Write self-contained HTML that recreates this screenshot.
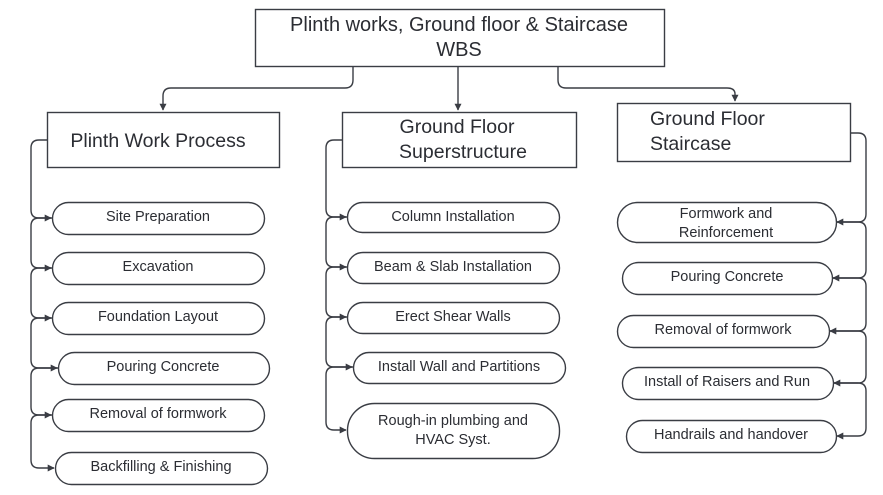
<!DOCTYPE html>
<html><head><meta charset="utf-8"><style>
html,body{margin:0;padding:0;background:#fff;}
svg{display:block;font-family:"Liberation Sans",sans-serif;}
</style></head><body>
<svg width="883" height="495" viewBox="0 0 883 495" xmlns="http://www.w3.org/2000/svg">
<defs><marker id="a" viewBox="0 0 10 10" refX="9" refY="5" markerWidth="7" markerHeight="7" orient="auto-start-reverse" markerUnits="userSpaceOnUse"><path d="M0,0 L10,5 L0,10 z" fill="#3a3d44"/></marker></defs>
<g fill="none" stroke="#3a3d44" stroke-width="1.4">
<!-- top connectors -->
<path d="M353,66 V80 Q353,88 345,88 H171 Q163,88 163,96 V110" marker-end="url(#a)"/>
<path d="M458,66 V110" marker-end="url(#a)"/>
<path d="M558,66 V80 Q558,88 566,88 H727 Q735,88 735,94 V101" marker-end="url(#a)"/>
<!-- left -->
<path d="M47,140 H39 Q31,140 31,148 V210 Q31,218 39,218 H51" marker-end="url(#a)"/>
<path d="M52,218 H39 Q31,218 31,226 V260 Q31,268 39,268 H51" marker-end="url(#a)"/>
<path d="M52,268 H39 Q31,268 31,276 V310 Q31,318 39,318 H51" marker-end="url(#a)"/>
<path d="M52,318 H39 Q31,318 31,326 V360 Q31,368 39,368 H57" marker-end="url(#a)"/>
<path d="M58,368 H39 Q31,368 31,376 V407 Q31,415 39,415 H51" marker-end="url(#a)"/>
<path d="M52,415 H39 Q31,415 31,423 V460 Q31,468 39,468 H54" marker-end="url(#a)"/>
<!-- middle -->
<path d="M342,140 H334 Q326,140 326,148 V209 Q326,217 334,217 H346" marker-end="url(#a)"/>
<path d="M347,217 H334 Q326,217 326,225 V259 Q326,267 334,267 H346" marker-end="url(#a)"/>
<path d="M347,267 H334 Q326,267 326,275 V309 Q326,317 334,317 H346" marker-end="url(#a)"/>
<path d="M347,317 H334 Q326,317 326,325 V359 Q326,367 334,367 H352" marker-end="url(#a)"/>
<path d="M353,367 H334 Q326,367 326,375 V422 Q326,430 334,430 H346" marker-end="url(#a)"/>
<!-- right -->
<path d="M850,133 H858 Q866,133 866,141 V214 Q866,222 858,222 H837" marker-end="url(#a)"/>
<path d="M836,222 H858 Q866,222 866,230 V270 Q866,278 858,278 H833" marker-end="url(#a)"/>
<path d="M832,278 H858 Q866,278 866,286 V323 Q866,331 858,331 H830" marker-end="url(#a)"/>
<path d="M829,331 H858 Q866,331 866,339 V375 Q866,383 858,383 H834" marker-end="url(#a)"/>
<path d="M833,383 H858 Q866,383 866,391 V428 Q866,436 858,436 H837" marker-end="url(#a)"/>
<!-- boxes -->
<rect x="255.5" y="9.5" width="409" height="57" fill="#fff"/>
<rect x="47.5" y="112.5" width="232" height="55" fill="#fff"/>
<rect x="342.5" y="112.5" width="234" height="55" fill="#fff"/>
<rect x="617.5" y="103.5" width="233" height="58" fill="#fff"/>
<!-- pills left -->
<rect x="52.5" y="202.5" width="212" height="32" rx="16" fill="#fff"/>
<rect x="52.5" y="252.5" width="212" height="32" rx="16" fill="#fff"/>
<rect x="52.5" y="302.5" width="212" height="32" rx="16" fill="#fff"/>
<rect x="58.5" y="352.5" width="211" height="32" rx="16" fill="#fff"/>
<rect x="52.5" y="399.5" width="212" height="32" rx="16" fill="#fff"/>
<rect x="55.5" y="452.5" width="212" height="32" rx="16" fill="#fff"/>
<!-- pills middle -->
<rect x="347.5" y="202.5" width="212" height="30" rx="15" fill="#fff"/>
<rect x="347.5" y="252.5" width="212" height="31" rx="15.5" fill="#fff"/>
<rect x="347.5" y="302.5" width="212" height="31" rx="15.5" fill="#fff"/>
<rect x="353.5" y="352.5" width="212" height="31" rx="15.5" fill="#fff"/>
<rect x="347.5" y="403.5" width="212" height="55" rx="27" fill="#fff"/>
<!-- pills right -->
<rect x="617.5" y="202.5" width="219" height="40" rx="20" fill="#fff"/>
<rect x="622.5" y="262.5" width="210" height="32" rx="16" fill="#fff"/>
<rect x="617.5" y="315.5" width="212" height="32" rx="16" fill="#fff"/>
<rect x="622.5" y="367.5" width="211" height="32" rx="16" fill="#fff"/>
<rect x="626.5" y="420.5" width="210" height="32" rx="16" fill="#fff"/>
</g>
<g fill="#2b2d33" text-anchor="middle">
<text x="459" y="31" font-size="20">Plinth works, Ground floor &amp; Staircase</text>
<text x="459" y="56" font-size="20">WBS</text>
<text x="158" y="147" font-size="19.5">Plinth Work Process</text>
<text x="457" y="133" font-size="19.5">Ground Floor</text>
<text x="463" y="158" font-size="19.5">Superstructure</text>
<text x="650" y="125" font-size="19.5" text-anchor="start">Ground Floor</text>
<text x="650" y="150" font-size="19.5" text-anchor="start">Staircase</text>
<g font-size="14.5">
<text x="158" y="221">Site Preparation</text>
<text x="158" y="271">Excavation</text>
<text x="158" y="321">Foundation Layout</text>
<text x="163" y="371">Pouring Concrete</text>
<text x="158" y="418">Removal of formwork</text>
<text x="161" y="471">Backfilling &amp; Finishing</text>
<text x="453" y="221">Column Installation</text>
<text x="453" y="271">Beam &amp; Slab Installation</text>
<text x="453" y="321">Erect Shear Walls</text>
<text x="459" y="371">Install Wall and Partitions</text>
<text x="453" y="425">Rough-in plumbing and</text>
<text x="453" y="444">HVAC Syst.</text>
<text x="726" y="218">Formwork and</text>
<text x="726" y="237">Reinforcement</text>
<text x="727" y="281">Pouring Concrete</text>
<text x="723" y="334">Removal of formwork</text>
<text x="727" y="386">Install of Raisers and Run</text>
<text x="731" y="439">Handrails and handover</text>
</g>
</g>
</svg>
</body></html>
